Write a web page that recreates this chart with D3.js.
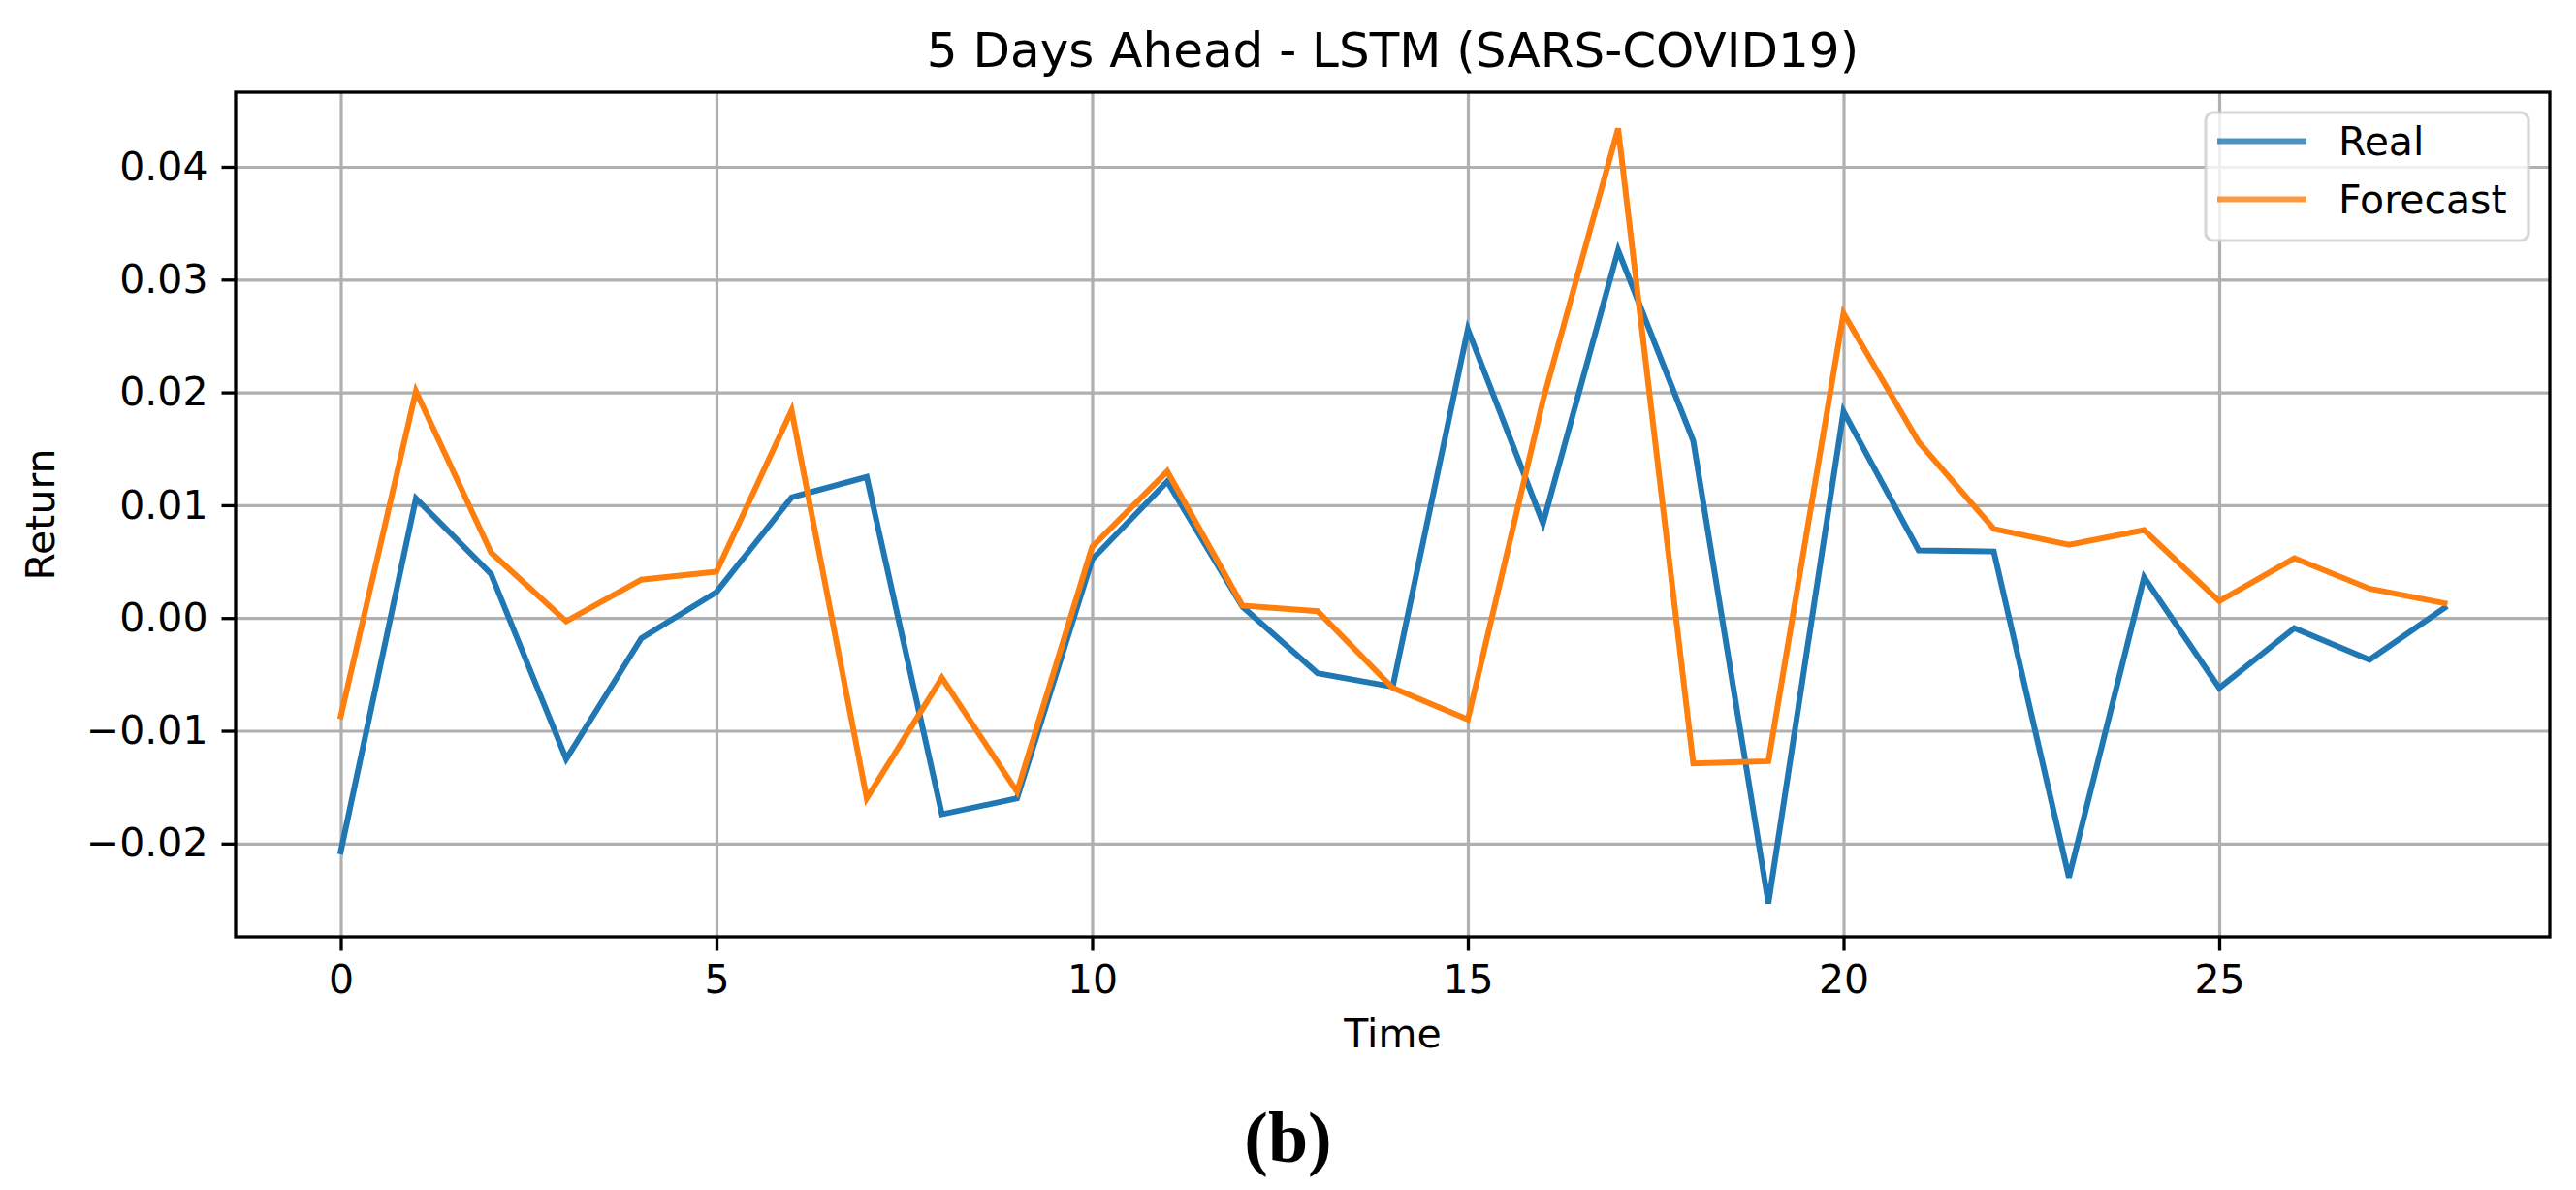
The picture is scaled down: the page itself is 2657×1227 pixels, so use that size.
<!DOCTYPE html>
<html>
<head>
<meta charset="utf-8">
<script src="https://cdn.jsdelivr.net/npm/d3@7"></script>
<style>
  html, body { margin: 0; padding: 0; background: #ffffff; }
  svg { display: block; }
  text { font-family: "DejaVu Sans", sans-serif; fill: #000; }
</style>
</head>
<body>
<svg id="chart" width="2657" height="1227"></svg>
<script>
// ---- data ----
const timeSteps = d3.range(0, 29);
const realValues = [
  -0.0207, 0.0106, 0.0039, -0.0125, -0.0018, 0.0023, 0.0107, 0.0125, -0.0174, -0.0160,
   0.0052, 0.0121, 0.0010, -0.0049, -0.0061, 0.0256, 0.0084, 0.0326, 0.0157, -0.0253,
   0.0183, 0.0060, 0.0059, -0.0230, 0.0036, -0.0062, -0.0009, -0.0037, 0.0009
];
const forecastValues = [
  -0.0087, 0.0201, 0.0058, -0.0003, 0.0034, 0.0041, 0.0184, -0.0160, -0.0053, -0.0154,
   0.0063, 0.0130, 0.0011, 0.0006, -0.0062, -0.0090, 0.0193, 0.0434, -0.0129, -0.0127,
   0.0270, 0.0156, 0.0079, 0.0065, 0.0078, 0.0015, 0.0053, 0.0026, 0.0013
];
const xTicks = [0, 5, 10, 15, 20, 25];
const yTicks = [-0.02, -0.01, 0.00, 0.01, 0.02, 0.03, 0.04];
const seriesNames = ["Real", "Forecast"];
const seriesColors = ["#1f77b4", "#ff7f0e"];
const titleText = "5 Days Ahead - LSTM (SARS-COVID19)";
const xLabelText = "Time";
const yLabelText = "Return";
const panelLabel = "(b)";

// ---- layout ----
const W = 2657, H = 1227;
const plot = { left: 243, right: 2630, top: 95, bottom: 966 };
const svg = d3.select("#chart");
svg.append("rect").attr("width", W).attr("height", H).attr("fill", "#fff");

const x = d3.scaleLinear().domain([-1.4, 29.4]).range([plot.left, plot.right]);
const y = d3.scaleLinear().domain([-0.02827, 0.04662]).range([plot.bottom, plot.top]);

const pw = plot.right - plot.left, ph = plot.bottom - plot.top;
const tickFont = 41;

// grid
const gx = svg.append("g").attr("transform", `translate(0,${plot.bottom})`)
  .call(d3.axisBottom(x).tickValues(xTicks).tickSize(-ph).tickFormat(""));
gx.select(".domain").remove();
gx.selectAll("line").attr("stroke", "#b0b0b0").attr("stroke-width", 3.2);

const gy = svg.append("g").attr("transform", `translate(${plot.left},0)`)
  .call(d3.axisLeft(y).tickValues(yTicks).tickSize(-pw).tickFormat(""));
gy.select(".domain").remove();
gy.selectAll("line").attr("stroke", "#b0b0b0").attr("stroke-width", 3.2);

// lines
const seriesData = [realValues, forecastValues];
const line = d3.line().x((d, i) => x(timeSteps[i])).y(d => y(d));
seriesData.forEach((vals, k) => {
  svg.append("path").datum(vals)
    .attr("d", line)
    .attr("fill", "none")
    .attr("stroke", seriesColors[k])
    .attr("stroke-width", 6)
    .attr("stroke-linejoin", "miter")
    .attr("stroke-linecap", "square");
});

// spines
svg.append("rect")
  .attr("x", plot.left).attr("y", plot.top)
  .attr("width", pw).attr("height", ph)
  .attr("fill", "none").attr("stroke", "#000").attr("stroke-width", 3.3);

// axes ticks & labels
const ax = svg.append("g").attr("transform", `translate(0,${plot.bottom})`)
  .call(d3.axisBottom(x).tickValues(xTicks).tickSize(14.5).tickPadding(14).tickFormat(d3.format("d")));
ax.select(".domain").remove();
ax.selectAll("line").attr("stroke", "#000").attr("stroke-width", 3.3);
ax.selectAll("text").attr("font-size", tickFont).attr("font-family", "DejaVu Sans").attr("fill", "#000");

const ay = svg.append("g").attr("transform", `translate(${plot.left},0)`)
  .call(d3.axisLeft(y).tickValues(yTicks).tickSize(14.5).tickPadding(14).tickFormat(d3.format(".2f")));
ay.select(".domain").remove();
ay.selectAll("line").attr("stroke", "#000").attr("stroke-width", 3.3);
ay.selectAll("text").attr("font-size", tickFont).attr("font-family", "DejaVu Sans").attr("fill", "#000");

// title & labels
svg.append("text")
  .attr("x", (plot.left + plot.right) / 2).attr("y", 69)
  .attr("text-anchor", "middle").attr("font-size", 50)
  .text(titleText);

svg.append("text")
  .attr("x", (plot.left + plot.right) / 2).attr("y", 1080)
  .attr("text-anchor", "middle").attr("font-size", tickFont)
  .text(xLabelText);

svg.append("text")
  .attr("transform", `translate(56,${(plot.top + plot.bottom) / 2}) rotate(-90)`)
  .attr("text-anchor", "middle").attr("font-size", tickFont)
  .text(yLabelText);

svg.append("text")
  .attr("x", W / 2).attr("y", 1198)
  .attr("text-anchor", "middle")
  .attr("font-size", 74).attr("font-weight", "bold")
  .style("font-family", "'Liberation Serif', 'DejaVu Serif', serif")
  .text(panelLabel);

// legend
const lg = svg.append("g");
lg.append("rect")
  .attr("x", 2275).attr("y", 116).attr("width", 333).attr("height", 132)
  .attr("rx", 8).attr("ry", 8)
  .attr("fill", "#fff").attr("fill-opacity", 0.8)
  .attr("stroke", "#cccccc").attr("stroke-opacity", 0.8).attr("stroke-width", 3.2);
seriesNames.forEach((name, k) => {
  const cy = 145.5 + k * 60;
  lg.append("line")
    .attr("x1", 2287).attr("x2", 2379).attr("y1", cy).attr("y2", cy)
    .attr("stroke", seriesColors[k]).attr("stroke-width", 6).attr("stroke-opacity", 0.8);
  lg.append("text")
    .attr("x", 2412).attr("y", cy).attr("dy", "0.36em")
    .attr("font-size", tickFont).text(name);
});
</script>
</body>
</html>
